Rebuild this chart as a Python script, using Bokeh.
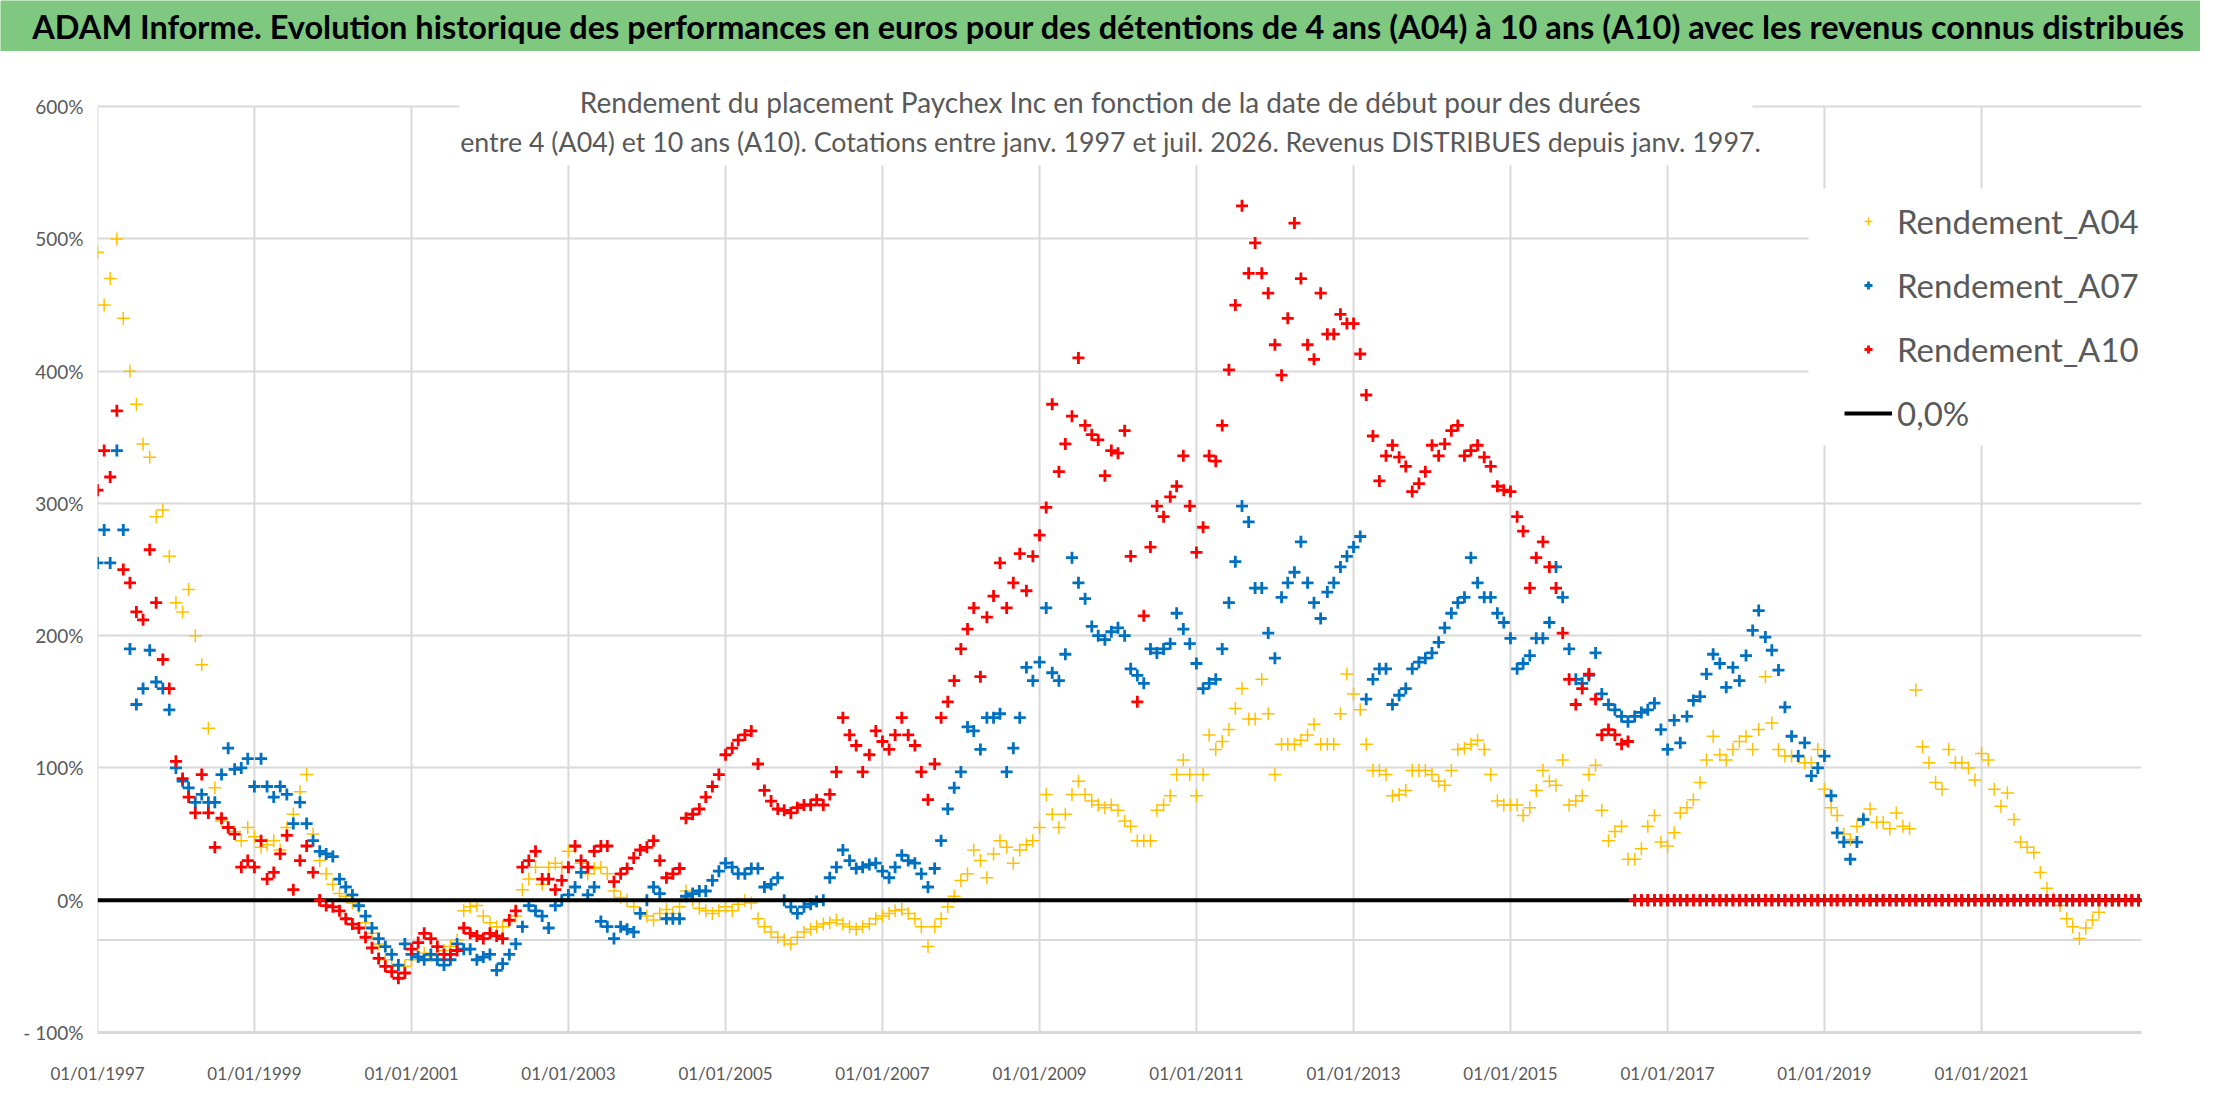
import pandas as pd
from bokeh.embed import file_html
from bokeh.layouts import column
from bokeh.models import (BooleanFilter, BoxAnnotation, CDSView, ColumnDataSource,
                          DatetimeTickFormatter, FixedTicker, Label, Legend,
                          LegendItem, Range1d, Span)
from bokeh.plotting import figure
from bokeh.resources import INLINE

TITLE = ("ADAM Informe. Evolution historique des performances en euros pour des "
         "détentions de 4 ans (A04) à 10 ans (A10) avec les revenus connus distribués")
SUBTITLE_1 = "Rendement du placement Paychex Inc en fonction de la date de début pour des durées"
SUBTITLE_2 = ("entre 4 (A04) et 10 ans (A10). Cotations entre janv. 1997 et juil. 2026. "
              "Revenus DISTRIBUES depuis janv. 1997.")

# one value per month (in %), starting January 1997, one row per year
first_month = "1997-01-01"

rendement_a04 = [
    490, 450, 470, 500, 440, 400, 375, 345, 335, 290, 295, 260,  # 1997
    225, 218, 235, 200, 178, 130, 85, 60, 55, 52, 45, 55,  # 1998
    48, 40, 42, 45, 38, 55, 65, 82, 95, 50, 30, 20,  # 1999
    12, 5, 3, -2, -5, -17, -25, -33, -45, -50, -55, -50,  # 2000
    -45, -42, -40, -42, -35, -38, -35, -30, -8, -5, -4, -12,  # 2001
    -17, -20, -20, -16, -12, 8, 16, 25, 12, 25, 28, 25,  # 2002
    37, 40, 28, 20, 24, 25, 20, 7, 2, 0, -5, -10,  # 2003
    -12, -15, -10, -7, -10, -5, 7, 0, -6, -8, -10, -8,  # 2004
    -5, -8, -3, 0, -2, -14, -20, -24, -28, -30, -33, -28,  # 2005
    -24, -22, -20, -18, -17, -15, -18, -20, -22, -20, -18, -14,  # 2006
    -12, -10, -8, -7, -10, -14, -20, -35, -20, -14, -5, 3,  # 2007
    15, 20, 38, 30, 17, 35, 45, 40, 28, 38, 42, 45,  # 2008
    55, 80, 65, 55, 65, 80, 90, 80, 75, 72, 70, 72,  # 2009
    68, 60, 56, 45, 45, 45, 68, 72, 79, 95, 106, 95,  # 2010
    79, 95, 125, 114, 120, 129, 145, 160, 137, 137, 167, 141,  # 2011
    95, 118, 118, 118, 121, 125, 133, 118, 118, 118, 141, 171,  # 2012
    156, 144, 118, 98, 98, 95, 79, 80, 83, 98, 98, 98,  # 2013
    95, 90, 87, 98, 114, 115, 118, 121, 114, 95, 75, 72,  # 2014
    72, 72, 64, 70, 83, 98, 90, 87, 106, 72, 75, 79,  # 2015
    95, 102, 68, 45, 52, 56, 31, 31, 39, 56, 64, 44,  # 2016
    41, 51, 66, 70, 76, 89, 106, 124, 110, 106, 114, 120,  # 2017
    124, 114, 129, 169, 134, 114, 109, 109, 109, 104, 104, 114,  # 2018
    84, 70, 64, 50, 46, 56, 62, 69, 59, 59, 54, 66,  # 2019
    56, 54, 159, 116, 104, 89, 84, 114, 104, 104, 100, 91,  # 2020
    111, 106, 84, 71, 81, 61, 44, 40, 36, 21, 9, 1,  # 2021
    -4, -14, -20, -29, -21, -15, -9, -1, 0, 0, 0, 0,  # 2022
    0,  # 2023
]

rendement_a07 = [
    255, 280, 255, 340, 280, 190, 148, 160, 189, 165, 160, 144,  # 1997
    100, 90, 85, 74, 80, 74, 74, 95, 115, 99, 100, 107,  # 1998
    86, 107, 86, 78, 86, 80, 58, 74, 58, 45, 37, 35,  # 1999
    33, 16, 10, 4, -4, -12, -21, -29, -35, -41, -49, -33,  # 2000
    -41, -43, -45, -41, -45, -49, -45, -33, -37, -37, -45, -43,  # 2001
    -41, -53, -48, -41, -33, -20, -4, -8, -12, -21, -4, 0,  # 2002
    4, 10, 21, 4, 10, -16, -20, -29, -20, -22, -24, -10,  # 2003
    0, 10, 5, -14, -14, -14, 3, 5, 7, 7, 15, 22,  # 2004
    28, 25, 20, 20, 24, 24, 10, 12, 17, 0, -5, -10,  # 2005
    -5, -3, -1, 0, 17, 25, 38, 30, 24, 25, 27, 28,  # 2006
    22, 17, 25, 34, 30, 28, 20, 10, 24, 45, 69, 85,  # 2007
    97, 131, 128, 114, 138, 138, 141, 97, 115, 138, 176, 166,  # 2008
    180, 221, 172, 166, 186, 259, 240, 228, 207, 200, 197, 203,  # 2009
    206, 200, 175, 170, 164, 190, 187, 190, 194, 217, 205, 194,  # 2010
    179, 160, 164, 167, 190, 225, 256, 298, 286, 236, 236, 202,  # 2011
    183, 229, 240, 248, 271, 240, 225, 213, 233, 240, 252, 260,  # 2012
    267, 275, 152, 167, 175, 175, 148, 155, 160, 175, 180, 183,  # 2013
    187, 195, 206, 217, 225, 229, 259, 240, 229, 229, 217, 210,  # 2014
    198, 175, 179, 185, 198, 198, 210, 252, 229, 190, 167, 164,  # 2015
    170, 187, 156, 148, 144, 139, 135, 139, 142, 144, 149, 129,  # 2016
    114, 136, 119, 139, 151, 154, 171, 186, 179, 161, 176, 166,  # 2017
    185, 204, 219, 199, 189, 174, 146, 124, 109, 119, 94, 100,  # 2018
    109, 79, 51, 44, 31, 44, 61, 0, 0, 0, 0, 0,  # 2019
    0, 0, 0, 0, 0, 0, 0, 0, 0, 0, 0, 0,  # 2020
    0, 0, 0, 0, 0, 0, 0, 0, 0, 0, 0, 0,  # 2021
    0, 0, 0, 0, 0, 0, 0, 0, 0, 0, 0, 0,  # 2022
    0,  # 2023
]

rendement_a10 = [
    310, 340, 320, 370, 250, 240, 218, 212, 265, 225, 182, 160,  # 1997
    105, 92, 78, 66, 95, 66, 40, 62, 55, 50, 25, 30,  # 1998
    25, 45, 16, 21, 35, 49, 8, 30, 41, 21, 0, -4,  # 1999
    -5, -8, -14, -18, -21, -28, -36, -44, -50, -54, -59, -55,  # 2000
    -37, -32, -25, -29, -35, -41, -41, -38, -21, -25, -27, -29,  # 2001
    -25, -27, -29, -15, -8, 25, 30, 37, 16, 16, 8, 15,  # 2002
    25, 41, 30, 25, 37, 41, 41, 14, 20, 24, 32, 38,  # 2003
    40, 45, 30, 17, 20, 24, 62, 65, 69, 78, 86, 95,  # 2004
    110, 115, 121, 125, 128, 103, 83, 75, 69, 68, 66, 70,  # 2005
    72, 72, 76, 72, 80, 97, 138, 125, 117, 97, 110, 128,  # 2006
    120, 114, 125, 138, 125, 117, 97, 76, 103, 138, 150, 166,  # 2007
    190, 205, 221, 169, 214, 230, 255, 221, 240, 262, 234, 260,  # 2008
    276, 297, 375, 324, 345, 366, 410, 359, 352, 348, 321, 340,  # 2009
    338, 355, 260, 150, 215, 267, 298, 290, 305, 313, 336, 298,  # 2010
    263, 282, 336, 332, 359, 401, 450, 525, 474, 497, 474, 459,  # 2011
    420, 397, 440, 512, 470, 420, 409, 459, 428, 428, 443, 436,  # 2012
    436, 413, 382, 351, 317, 336, 344, 335, 328, 309, 315, 324,  # 2013
    344, 336, 345, 355, 359, 336, 340, 344, 335, 328, 313, 310,  # 2014
    309, 290, 279, 236, 259, 271, 252, 236, 202, 167, 148, 160,  # 2015
    171, 152, 125, 129, 125, 118, 120, 0, 0, 0, 0, 0,  # 2016
    0, 0, 0, 0, 0, 0, 0, 0, 0, 0, 0, 0,  # 2017
    0, 0, 0, 0, 0, 0, 0, 0, 0, 0, 0, 0,  # 2018
    0, 0, 0, 0, 0, 0, 0, 0, 0, 0, 0, 0,  # 2019
    0, 0, 0, 0, 0, 0, 0, 0, 0, 0, 0, 0,  # 2020
    0, 0, 0, 0, 0, 0, 0, 0, 0, 0, 0, 0,  # 2021
    0, 0, 0, 0, 0, 0, 0, 0, 0, 0, 0, 0,  # 2022
    0,  # 2023
]

# the "0,0%" series
zero_line_dates = ["1997-01-01", "2023-01-15"]
zero_line_values = [0, 0]
# light grey horizontal line drawn under the zero line
lower_line = -30

x_start, x_end = "1997-01-01", "2023-01-15"
x_tick_dates = ["1997-01-01", "1999-01-01", "2001-01-01", "2003-01-01", "2005-01-01",
                "2007-01-01", "2009-01-01", "2011-01-01", "2013-01-01", "2015-01-01",
                "2017-01-01", "2019-01-01", "2021-01-01"]
y_ticks = [-100, 0, 100, 200, 300, 400, 500, 600]
y_tick_labels = ["- 100%", "0%", "100%", "200%", "300%", "400%", "500%", "600%"]
# a little room above 600% for the subtitle box
y_axis_top = 616

GREEN = "#7ec87f"
GREY_TEXT = "#595959"
GRID = "#d9d9d9"
FONT = "Lato"


def monthly_source(values):
    dates = pd.date_range(first_month, periods=len(values), freq="MS")
    return ColumnDataSource(data=dict(date=dates, rendement=values))


# green banner with the main title
head = figure(width=2200, height=51, x_range=Range1d(0, 1), y_range=Range1d(0, 1),
              x_axis_location=None, y_axis_location=None,
              output_backend="svg", toolbar_location=None, min_border=0,
              frame_align=False, outline_line_color=None,
              background_fill_color=GREEN, border_fill_color=GREEN)
head.grid.visible = False
head.add_layout(Label(x=1108, y=25, x_units="screen", y_units="screen", text=TITLE,
                      text_align="center", text_baseline="middle", text_font=FONT,
                      text_font_style="bold", text_font_size="32.5px", text_color="black"))

p = figure(width=2200, height=1035, x_axis_type="datetime",
           x_range=Range1d(pd.Timestamp(x_start), pd.Timestamp(x_end)),
           y_range=Range1d(y_ticks[0], y_axis_top),
           output_backend="svg", toolbar_location=None, frame_align=False,
           min_border_left=97, min_border_right=59, min_border_top=34, min_border_bottom=49,
           outline_line_color=None, background_fill_color="white", border_fill_color="white")

# vertical grid lines stop at 600%
tick_ts = [pd.Timestamp(d) for d in x_tick_dates]
p.segment(x0=tick_ts, y0=[y_ticks[0]] * len(tick_ts), x1=tick_ts,
          y1=[y_ticks[-1]] * len(tick_ts), line_color=GRID, line_width=2)
p.xgrid.visible = False
p.ygrid.grid_line_color = GRID
p.ygrid.grid_line_width = 2
p.add_layout(Span(location=lower_line, dimension="width", line_color=GRID, line_width=2,
                  level="underlay"))

src04 = monthly_source(rendement_a04)
src07 = monthly_source(rendement_a07)
src10 = monthly_source(rendement_a10)

r04 = p.scatter(x="date", y="rendement", source=src04, marker="cross", size=13,
                line_color="#ffc000", line_width=1.5)
r07 = p.scatter(x="date", y="rendement", source=src07, marker="cross", size=12,
                line_color="#0070c0", line_width=2.8)
r10 = p.scatter(x="date", y="rendement", source=src10, marker="cross", size=12,
                line_color="#ff0000", line_width=2.8)

r_zero = p.line(x=[pd.Timestamp(d) for d in zero_line_dates], y=zero_line_values,
                line_color="black", line_width=4)

# red points sitting on the zero line are drawn above it
on_zero = CDSView(filter=BooleanFilter([v == 0 for v in rendement_a10]))
p.scatter(x="date", y="rendement", source=src10, view=on_zero, marker="cross", size=12,
          line_color="#ff0000", line_width=2.8)

# axes
p.xaxis.ticker = FixedTicker(ticks=[t.value // 10**6 for t in tick_ts])
p.xaxis.formatter = DatetimeTickFormatter(days="%d/%m/%Y", months="%d/%m/%Y",
                                          years="%d/%m/%Y")
p.yaxis.ticker = FixedTicker(ticks=y_ticks)
p.yaxis.major_label_overrides = dict(zip(y_ticks, y_tick_labels))

for ax in (p.xaxis, p.yaxis):
    ax.major_tick_line_color = None
    ax.minor_tick_line_color = None
    ax.major_label_text_font = FONT
    ax.major_label_text_color = GREY_TEXT
p.yaxis.major_label_text_font_size = "19px"
p.xaxis.major_label_text_font_size = "17px"
p.yaxis.axis_line_color = None
p.yaxis.major_label_standoff = 8
p.xaxis.axis_line_color = GRID
p.xaxis.axis_line_width = 3
p.xaxis.major_label_standoff = 24

# chart subtitle on a white box
p.add_layout(BoxAnnotation(left=362, right=1655, bottom=867, top=952,
                           left_units="screen", right_units="screen",
                           bottom_units="screen", top_units="screen",
                           fill_color="white", fill_alpha=1, line_color=None))
for txt, ypos, fsize in ((SUBTITLE_1, 931, "28px"), (SUBTITLE_2, 891, "26.8px")):
    p.add_layout(Label(x=1013, y=ypos, x_units="screen", y_units="screen", text=txt,
                       text_align="center", text_baseline="middle", text_font=FONT,
                       text_font_size=fsize, text_color=GREY_TEXT))

# white area behind the legend
p.add_layout(BoxAnnotation(left=1711, right=2044, bottom=587, top=844,
                           left_units="screen", right_units="screen",
                           bottom_units="screen", top_units="screen",
                           fill_color="white", fill_alpha=1, line_color=None))
legend = Legend(items=[LegendItem(label="Rendement_A04", renderers=[r04]),
                       LegendItem(label="Rendement_A07", renderers=[r07]),
                       LegendItem(label="Rendement_A10", renderers=[r10]),
                       LegendItem(label="0,0%", renderers=[r_zero])],
                location=(1747, 599), padding=0, margin=0, spacing=24,
                glyph_width=48, glyph_height=20, label_height=40, label_standoff=5,
                label_text_font=FONT, label_text_font_size="33px",
                label_text_color=GREY_TEXT, border_line_color=None,
                background_fill_color="white", background_fill_alpha=1)
p.add_layout(legend)

layout = column(head, p, spacing=0)
open("out.html", "w").write(file_html(layout, INLINE))
